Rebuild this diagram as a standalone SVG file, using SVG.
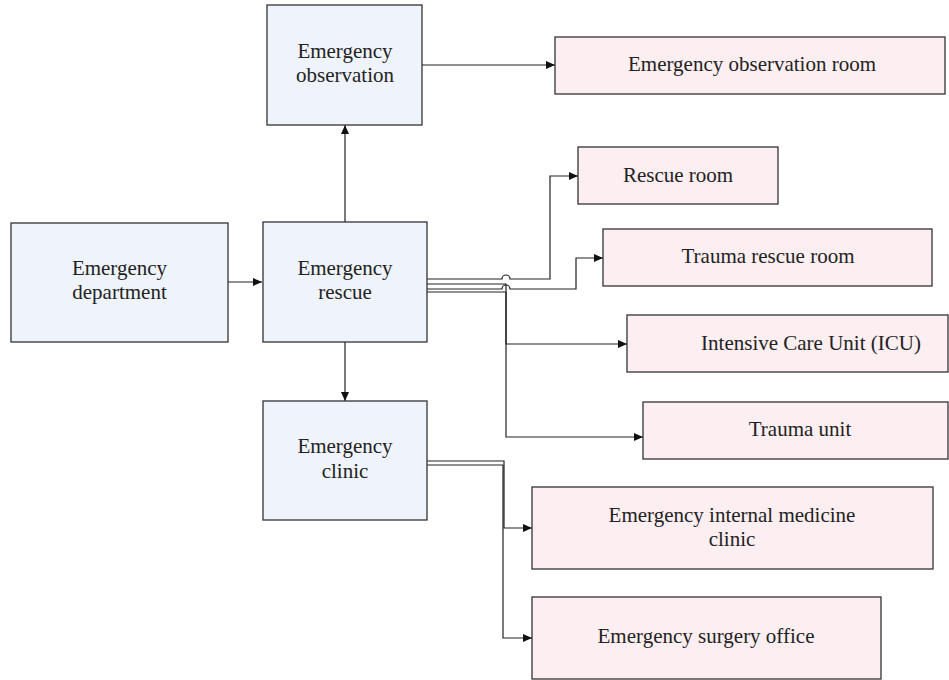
<svg xmlns="http://www.w3.org/2000/svg" width="949" height="680" viewBox="0 0 949 680">
<style>
.b{fill:#eff4fc;stroke:#333;stroke-width:1.3}
.p{fill:#fdeef1;stroke:#333;stroke-width:1.3}
.t{font-family:'Liberation Serif','DejaVu Serif',serif;font-size:21px;fill:#222;text-anchor:middle}
.c{fill:none;stroke:#222;stroke-width:1.2}
</style>
<defs>
<marker id="ah" markerWidth="10" markerHeight="8" refX="9" refY="4" orient="auto" markerUnits="userSpaceOnUse">
<path d="M0,0 L9,4 L0,8 Z" fill="#111"/>
</marker>
</defs>
<rect width="949" height="680" fill="#fff"/>
<g id="connectors">
<path class="c" d="M228,282 H262" marker-end="url(#ah)"/>
<path class="c" d="M345,222 V125" marker-end="url(#ah)"/>
<path class="c" d="M345,342 V401" marker-end="url(#ah)"/>
<path class="c" d="M422,65 H555" marker-end="url(#ah)"/>
<path class="c" d="M427,279 H502 A4,4 0 0 1 510,279 H550 V176 H578" marker-end="url(#ah)"/>
<path class="c" d="M427,284 H506 V344 H627" marker-end="url(#ah)"/>
<path class="c" d="M427,289 H502 A4,4 0 0 1 510,289 H576 V258 H603" marker-end="url(#ah)"/>
<path class="c" d="M427,292 H506 V437 H643" marker-end="url(#ah)"/>
<path class="c" d="M427,461 H504 V528 H532" marker-end="url(#ah)"/>
<path class="c" d="M427,465 H503 V638 H532" marker-end="url(#ah)"/>
</g>
<g id="dept"><rect class="b" x="11" y="223" width="217" height="119"/><text class="t" x="119.5" y="275">Emergency</text><text class="t" x="119.5" y="299">department</text></g>
<g id="rescue"><rect class="b" x="263" y="222" width="164" height="120"/><text class="t" x="345" y="275">Emergency</text><text class="t" x="345" y="299">rescue</text></g>
<g id="observation"><rect class="b" x="267" y="5" width="155" height="120"/><text class="t" x="345" y="58">Emergency</text><text class="t" x="345" y="82">observation</text></g>
<g id="clinic"><rect class="b" x="263" y="401" width="164" height="119"/><text class="t" x="345" y="453">Emergency</text><text class="t" x="345" y="478">clinic</text></g>
<g id="obsroom"><rect class="p" x="555" y="37" width="390" height="57"/><text class="t" x="752" y="71">Emergency observation room</text></g>
<g id="rescueroom"><rect class="p" x="578" y="147" width="200" height="57"/><text class="t" x="678" y="182">Rescue room</text></g>
<g id="traumarescue"><rect class="p" x="603" y="229" width="329" height="57"/><text class="t" x="768" y="263">Trauma rescue room</text></g>
<g id="icu"><rect class="p" x="627" y="315" width="321" height="57"/><text class="t" x="811" y="350">Intensive Care Unit (ICU)</text></g>
<g id="traumaunit"><rect class="p" x="643" y="402" width="305" height="57"/><text class="t" x="800" y="436">Trauma unit</text></g>
<g id="internal"><rect class="p" x="532" y="487" width="401" height="82"/><text class="t" x="732" y="522">Emergency internal medicine</text><text class="t" x="732" y="546">clinic</text></g>
<g id="surgery"><rect class="p" x="532" y="597" width="349" height="82"/><text class="t" x="706" y="643">Emergency surgery office</text></g>
</svg>
